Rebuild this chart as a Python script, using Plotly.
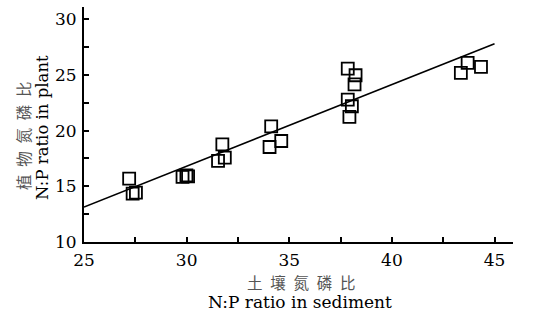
import plotly.graph_objects as go

# Data
sediment_np = [27.20, 27.37, 27.53, 29.80, 29.99, 30.07, 31.74, 31.53, 31.86,
               34.12, 34.04, 34.61, 37.85, 38.23, 38.18, 37.85, 38.05, 37.93,
               43.36, 43.69, 44.34]
plant_np = [15.69, 14.34, 14.43, 15.84, 15.99, 15.90, 18.77, 17.28, 17.57,
            20.39, 18.53, 19.07, 25.57, 24.97, 24.16, 22.78, 22.19, 21.23,
            25.18, 26.08, 25.72]

fit_slope = 0.7335
fit_intercept = -5.198
fit_x = [25, 45]
fit_y = [fit_slope * v + fit_intercept for v in fit_x]

x_ticks = [25, 30, 35, 40, 45]
y_ticks = [10, 15, 20, 25, 30]

serif = "DejaVu Serif"
cjk = "Noto Sans CJK SC"
sp = "\u2002"

fig = go.Figure()
fig.add_trace(go.Scatter(x=fit_x, y=fit_y, mode="lines",
                         line=dict(color="black", width=1.6), showlegend=False))
fig.add_trace(go.Scatter(x=sediment_np, y=plant_np, mode="markers",
                         marker=dict(symbol="square-open", size=12, color="black",
                                     line=dict(width=1.8, color="black")),
                         showlegend=False))

W, H = 539, 313
L, R, T, B = 84, 26, 7, 71
fig.update_layout(
    width=W, height=H,
    margin=dict(l=L, r=R, t=T, b=B),
    paper_bgcolor="white", plot_bgcolor="white",
    font=dict(family=serif, size=17, color="black"),
)
fig.update_xaxes(range=[25, 45.9], tickvals=x_ticks, ticktext=[str(v) for v in x_ticks],
                 showgrid=False, zeroline=False, showline=True, linecolor="black", linewidth=2,
                 ticks="inside", ticklen=5, tickwidth=1.5, tickcolor="black",
                 minor=dict(dtick=2.5, tick0=25, ticks="inside", ticklen=5, tickwidth=1.5,
                            tickcolor="black", showgrid=False),
                 tickfont=dict(family=serif, size=17, color="black"), ticklabelstandoff=2)
fig.update_yaxes(range=[10, 31.1], tickvals=y_ticks, ticktext=[str(v) for v in y_ticks],
                 showgrid=False, zeroline=False, showline=True, linecolor="black", linewidth=2,
                 ticks="inside", ticklen=5, tickwidth=1.5, tickcolor="black",
                 minor=dict(dtick=2.5, tick0=10, ticks="inside", ticklen=5, tickwidth=1.5,
                            tickcolor="black", showgrid=False),
                 tickfont=dict(family=serif, size=17, color="black"), ticklabelstandoff=2)

pw = W - L - R
ph = H - T - B
def px(xp):
    return (xp - L) / pw
def py(yp):
    return (H - B - yp) / ph

fig.add_annotation(text=sp.join("土壤氮磷比"), x=px(301), y=py(282), xref="paper", yref="paper",
                   showarrow=False, font=dict(family=cjk, size=15.5, color="#555555"),
                   xanchor="center", yanchor="middle")
fig.add_annotation(text="N:P ratio in sediment", x=px(300), y=py(302), xref="paper", yref="paper",
                   showarrow=False, font=dict(family=serif, size=17, color="black"),
                   xanchor="center", yanchor="middle")
fig.add_annotation(text=sp.join("植物氮磷比"), x=px(23), y=py(136), xref="paper", yref="paper",
                   showarrow=False, textangle=-90, font=dict(family=cjk, size=15.5, color="#555555"),
                   xanchor="center", yanchor="middle")
fig.add_annotation(text="N:P ratio in plant", x=px(43), y=py(128), xref="paper", yref="paper",
                   showarrow=False, textangle=-90, font=dict(family=serif, size=16.5, color="black"),
                   xanchor="center", yanchor="middle")

fig.write_html("out.html", config={"displayModeBar": False},
               post_script="document.body.style.margin='0';document.body.style.overflow='hidden';")
